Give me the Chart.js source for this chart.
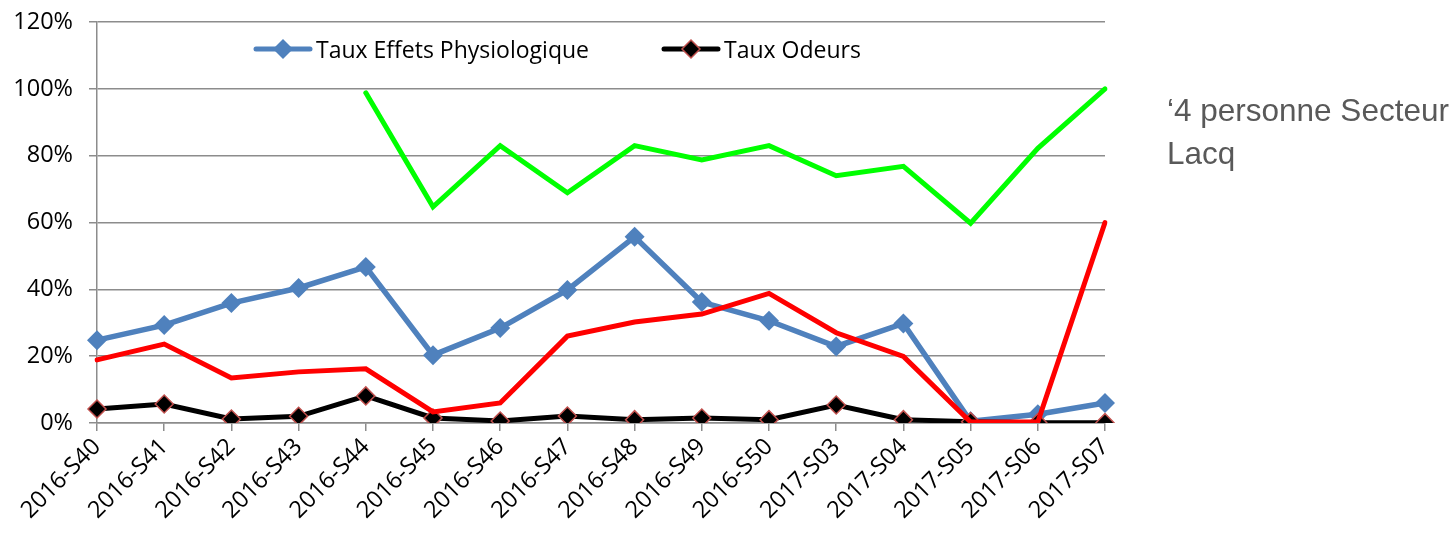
<!DOCTYPE html>
<html>
<head>
<meta charset="utf-8">
<script src="https://cdn.jsdelivr.net/npm/chart.js@4.4.1/dist/chart.umd.min.js"></script>
<style>
  html, body { margin: 0; padding: 0; background: #fff; }
  #wrap { position: relative; width: 1456px; height: 533px; }
  #note {
    position: absolute; left: 1167px; top: 89px;
    font: 31.5px "Liberation Sans", Arial, sans-serif;
    color: #595959; line-height: 43px;
  }
  #legend {
    position: absolute; left: 253px; top: 33px;
    display: flex; align-items: center;
    font: 23px "Open Sans", sans-serif; color: #000;
  }
  .leg-item { display: flex; align-items: center; margin-right: 72px; }
  .leg-item canvas { margin-right: 3px; }
</style>
</head>
<body>
<div id="wrap">
  <canvas id="chart" width="1456" height="533"></canvas>
  <div id="legend"></div>
  <div id="note">‘4 personne Secteur<br>Lacq</div>
</div>
<script>
const weeks = ['2016-S40','2016-S41','2016-S42','2016-S43','2016-S44','2016-S45','2016-S46','2016-S47',
               '2016-S48','2016-S49','2016-S50','2017-S03','2017-S04','2017-S05','2017-S06','2017-S07'];

// values in %
const tauxEffets = [24.8, 29.3, 35.9, 40.4, 46.7, 20.3, 28.4, 39.8, 55.7, 36.2, 30.6, 22.9, 29.8, 0.5, 2.6, 6.0];
const tauxOdeurs = [4.2, 5.7, 1.2, 2.0, 8.1, 1.5, 0.6, 2.1, 1.0, 1.5, 1.0, 5.4, 1.0, 0.4, 0.1, 0.1];
const serieRouge = [18.9, 23.6, 13.5, 15.3, 16.2, 3.3, 6.0, 26.0, 30.2, 32.6, 38.8, 27.0, 19.9, 0.3, 0.3, 60.0];
const serieVerte = [null, null, null, null, 98.8, 64.7, 83.0, 68.9, 83.0, 78.7, 83.0, 74.0, 76.8, 59.8, 82.2, 100];

const yTicks = [0, 20, 40, 60, 80, 100, 120];

const BLUE = '#4F81BD';
const GRID = '#8C8C8C';
const FONT = '"Open Sans", sans-serif';

const chart = new Chart(document.getElementById('chart'), {
  type: 'line',
  data: {
    labels: weeks,
    datasets: [
      {
        label: 'Taux Effets Physiologique',
        data: tauxEffets,
        borderColor: BLUE, backgroundColor: BLUE,
        borderWidth: 5.5,
        pointStyle: 'rectRot', pointRadius: 10, pointBorderWidth: 0,
        order: 3,
      },
      {
        label: 'Taux Odeurs',
        data: tauxOdeurs,
        borderColor: '#000', backgroundColor: '#000',
        borderWidth: 5,
        pointStyle: 'rectRot', pointRadius: 9,
        pointBorderColor: '#C0504D', pointBorderWidth: 1.5,
        order: 2,
      },
      {
        label: '',
        data: serieRouge,
        borderColor: '#FF0000',
        borderWidth: 5, pointRadius: 0,
        order: 1,
      },
      {
        label: '',
        data: serieVerte,
        borderColor: '#00FF00',
        borderWidth: 5, pointRadius: 0,
        order: 0,
      },
    ],
  },
  options: {
    responsive: false,
    animation: false,
    layout: { padding: { top: 22, right: 351, left: 0, bottom: 0 } },
    elements: { line: { tension: 0, borderCapStyle: 'round', borderJoinStyle: 'miter' } },
    plugins: {
      tooltip: { enabled: false },
      legend: { display: false },
    },
    scales: {
      x: {
        offset: false,
        afterFit: s => { s.height = 110; },
        grid: { drawOnChartArea: false, color: GRID, lineWidth: 1.5, tickLength: 8 },
        border: { color: GRID, width: 1.5 },
        ticks: {
          color: '#000', font: { family: FONT, size: 23.5 },
          minRotation: 45, maxRotation: 45, autoSkip: false, padding: 2,
        },
      },
      y: {
        min: 0, max: 120,
        afterFit: s => { s.width = 97; s.paddingTop = 0; s.paddingBottom = 0; },
        afterBuildTicks: s => { s.ticks = yTicks.map(v => ({ value: v })); },
        grid: { color: GRID, lineWidth: 1.5, tickLength: 8 },
        border: { color: GRID, width: 1.5 },
        ticks: {
          color: '#000', font: { family: FONT, size: 23.5 }, padding: 16,
          callback: v => v + '%',
        },
      },
    },
  },
});

// legend: only the two labelled series, line + diamond swatch like the original
function swatch(ds) {
  const c = document.createElement('canvas');
  c.width = 60; c.height = 24;
  const g = c.getContext('2d');
  g.strokeStyle = ds.borderColor; g.lineWidth = 5; g.lineCap = 'round';
  g.beginPath(); g.moveTo(3, 12); g.lineTo(57, 12); g.stroke();
  const r = ds.pointRadius;
  g.beginPath();
  g.moveTo(30 - r, 12); g.lineTo(30, 12 - r); g.lineTo(30 + r, 12); g.lineTo(30, 12 + r); g.closePath();
  g.fillStyle = ds.backgroundColor; g.fill();
  if (ds.pointBorderWidth) { g.strokeStyle = ds.pointBorderColor; g.lineWidth = ds.pointBorderWidth; g.stroke(); }
  return c;
}

const legendEl = document.getElementById('legend');
chart.data.datasets.filter(ds => ds.label).forEach(ds => {
  const item = document.createElement('div');
  item.className = 'leg-item';
  item.appendChild(swatch(ds));
  const txt = document.createElement('span');
  txt.textContent = ds.label;
  item.appendChild(txt);
  legendEl.appendChild(item);
});
</script>
</body>
</html>
